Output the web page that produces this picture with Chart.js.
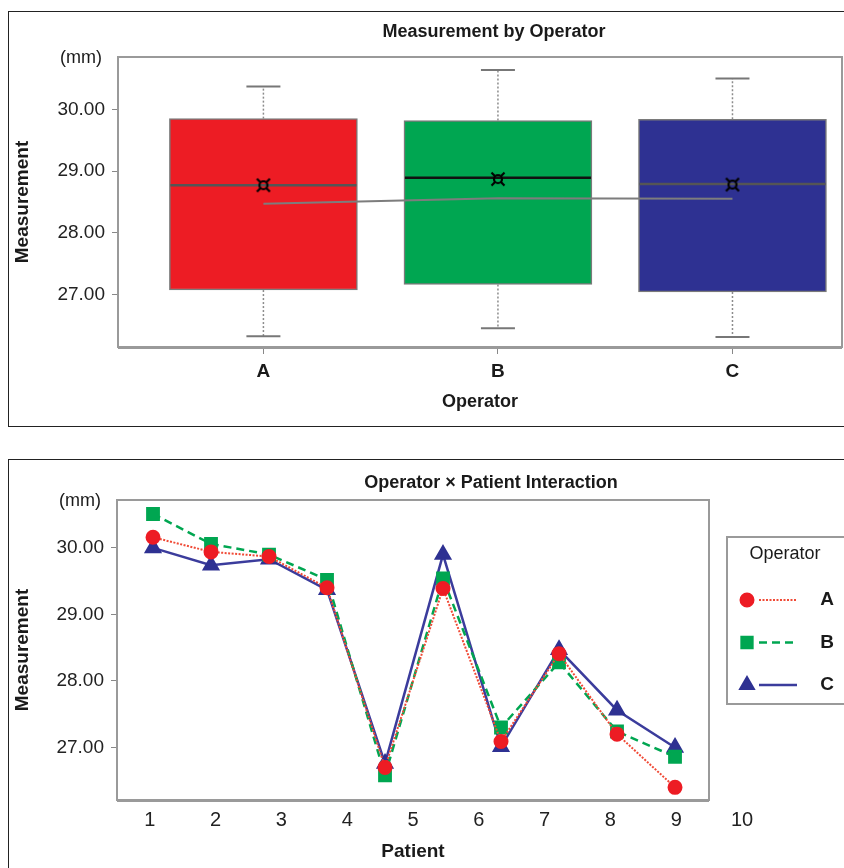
<!DOCTYPE html>
<html>
<head>
<meta charset="utf-8">
<script src="https://cdn.jsdelivr.net/npm/chart.js@4.4.1/dist/chart.umd.min.js"></script>
<style>
  html, body { margin: 0; padding: 0; background: #fff; overflow: hidden; }
  body { width: 844px; height: 868px; position: relative; font-family: "Liberation Sans", Arial, sans-serif; }
  .panel { position: absolute; left: 8px; width: 1000px; border: 1px solid #222; }
  #p1 { top: 11px; height: 414px; }
  #p2 { top: 459px; height: 500px; }
  .wrap { position: absolute; left: 0; }
  #w1 { top: 0; width: 988px; height: 430px; }
  #w2 { top: 430px; width: 982px; height: 438px; }
</style>
</head>
<body>
<div class="panel" id="p1"></div>
<div class="panel" id="p2"></div>
<div class="wrap" id="w1"><canvas id="box"></canvas></div>
<div class="wrap" id="w2"><canvas id="inter"></canvas></div>
<script>
Chart.defaults.font.family = '"Liberation Sans", Arial, sans-serif';

// top chart: measurement by operator
const operators = ['A', 'B', 'C'];
const boxColors = ['#ED1C24', '#00A651', '#2E3192'];
const whiskerLow = [26.32, 26.45, 26.31];
const q1 = [27.07, 27.16, 27.04];
const median = [28.77, 28.89, 28.79];
const q3 = [29.85, 29.82, 29.84];
const whiskerHigh = [30.37, 30.64, 30.50];
const mean = [28.77, 28.87, 28.78];
const trend = [28.47, 28.56, 28.55];
const boxYTicks = [27, 28, 29, 30];

// bottom chart: operator x patient
const patients = [1, 2, 3, 4, 5, 6, 7, 8, 9, 10];
const seriesA = [30.16, 29.94, 29.87, 29.40, 26.70, 29.39, 27.09, 28.41, 27.20, 26.40];
const seriesB = [30.51, 30.06, 29.90, 29.52, 26.58, 29.54, 27.30, 28.28, 27.24, 26.86];
const seriesC = [30.00, 29.74, 29.83, 29.37, 26.76, 29.90, 27.01, 28.47, 27.56, 27.00];
const interYTicks = [27, 28, 29, 30];

const TEXT = '#1a1a1a';

// frame round the plot area + "(mm)" unit text
const framePlugin = {
  id: 'frame',
  beforeDatasetsDraw(chart) {
    const a = chart.chartArea, ctx = chart.ctx;
    ctx.save();
    ctx.strokeStyle = '#9a9a9a';
    ctx.lineWidth = 2;
    ctx.strokeRect(a.left, a.top, a.right - a.left, a.bottom - a.top);
    ctx.lineWidth = 3;
    ctx.beginPath();
    ctx.moveTo(a.left, a.bottom + 0.5);
    ctx.lineTo(a.right, a.bottom + 0.5);
    ctx.stroke();
    ctx.restore();
  },
  afterDraw(chart) {
    const a = chart.chartArea, ctx = chart.ctx;
    ctx.save();
    ctx.fillStyle = TEXT;
    ctx.font = '18px "Liberation Sans", Arial, sans-serif';
    ctx.textAlign = 'center';
    ctx.textBaseline = 'middle';
    ctx.fillText('(mm)', a.left - 37, a.top + 1);
    ctx.restore();
  }
};

// legend to the right, point + line sample for each series
const sideLegend = {
  id: 'sideLegend',
  afterDraw(chart) {
    const a = chart.chartArea, ctx = chart.ctx;
    const x0 = a.right + 18, y0 = a.top + 37;
    ctx.save();
    ctx.strokeStyle = '#9a9a9a';
    ctx.lineWidth = 2;
    ctx.strokeRect(x0, y0, 140, 167);
    ctx.fillStyle = TEXT;
    ctx.textAlign = 'center';
    ctx.textBaseline = 'middle';
    ctx.font = '18px "Liberation Sans", Arial, sans-serif';
    ctx.fillText('Operator', x0 + 58, y0 + 17);
    chart.data.datasets.forEach((ds, i) => {
      const y = y0 + 63 + i * 42.5;
      ctx.save();
      ctx.strokeStyle = ds.borderColor;
      ctx.lineWidth = ds.borderWidth;
      ctx.setLineDash(ds.borderDash || []);
      ctx.beginPath();
      ctx.moveTo(x0 + 32, y);
      ctx.lineTo(x0 + 70, y);
      ctx.stroke();
      ctx.restore();
      ctx.fillStyle = ds.pointBackgroundColor;
      ctx.strokeStyle = ds.pointBorderColor;
      Chart.helpers.drawPoint(ctx, { pointStyle: ds.pointStyle, radius: ds.pointRadius, borderWidth: 1, rotation: 0 }, x0 + 20, y);
      ctx.fillStyle = TEXT;
      ctx.font = 'bold 19px "Liberation Sans", Arial, sans-serif';
      ctx.fillText(ds.label, x0 + 100, y);
    });
    ctx.restore();
  }
};

function meanGlyph() {
  const c = document.createElement('canvas');
  c.width = c.height = 16;
  const g = c.getContext('2d');
  g.strokeStyle = '#000';
  g.lineWidth = 2.2;
  g.beginPath();
  g.arc(8, 8, 4, 0, Math.PI * 2);
  g.stroke();
  g.beginPath();
  [[1, 1], [-1, 1], [1, -1], [-1, -1]].forEach(([dx, dy]) => {
    g.moveTo(8 + dx * 3, 8 + dy * 3);
    g.lineTo(8 + dx * 6.5, 8 + dy * 6.5);
  });
  g.stroke();
  return c;
}

const yAxis = (min, max, tickVals, width) => ({
  type: 'linear',
  min: min, max: max,
  afterBuildTicks: s => { s.ticks = tickVals.map(v => ({ value: v })); },
  afterFit: s => { s.width = width; },
  ticks: { callback: v => v.toFixed(2), font: { size: 19 }, color: '#222', padding: 7 },
  grid: { drawOnChartArea: false, tickLength: 6, color: '#888' },
  border: { display: false },
  title: { display: true, text: 'Measurement', color: TEXT, font: { size: 19, weight: 'bold' }, padding: { top: 11.6, bottom: 0 } }
});

const spacer = width => ({
  type: 'linear', position: 'right',
  ticks: { display: false }, grid: { display: false }, border: { display: false },
  afterFit: s => { s.width = width; }
});

// ---- box plot ----
const boxDatasets = [];
boxDatasets.push({
  type: 'bar',
  data: operators.map((_, i) => ({ x: i + 1, y: [q1[i], q3[i]] })),
  backgroundColor: boxColors,
  borderColor: '#7a7a7a',
  borderWidth: 1.5,
  borderSkipped: false,
  barThickness: 188,
  order: 6
});
operators.forEach((_, i) => {
  [[q3[i], whiskerHigh[i]], [q1[i], whiskerLow[i]]].forEach(pair => {
    boxDatasets.push({
      type: 'line',
      data: pair.map(v => ({ x: i + 1, y: v })),
      borderColor: '#8c8c8c',
      borderWidth: 1.5,
      borderDash: [2, 2],
      pointRadius: 0,
      order: 5
    });
  });
});
boxDatasets.push({
  type: 'scatter',
  data: operators.map((_, i) => ({ x: i + 1, y: whiskerHigh[i] }))
    .concat(operators.map((_, i) => ({ x: i + 1, y: whiskerLow[i] }))),
  pointStyle: 'line',
  pointRadius: 17,
  pointBorderWidth: 2,
  pointBorderColor: '#777',
  order: 4
});
boxDatasets.push({
  type: 'line',
  data: operators.map((_, i) => ({ x: i + 1, y: trend[i] })),
  borderColor: '#7d7d7d',
  borderWidth: 2,
  pointRadius: 0,
  order: 3
});
boxDatasets.push({
  type: 'scatter',
  data: operators.map((_, i) => ({ x: i + 1, y: median[i] })),
  pointStyle: 'line',
  pointRadius: 93,
  pointBorderWidth: 2.5,
  pointBorderColor: ['#555', '#111', '#555'],
  order: 2
});
boxDatasets.push({
  type: 'scatter',
  data: operators.map((_, i) => ({ x: i + 1, y: mean[i] })),
  pointStyle: meanGlyph(),
  pointRadius: 8,
  order: 1
});

new Chart(document.getElementById('box'), {
  type: 'bar',
  data: { datasets: boxDatasets },
  options: {
    responsive: true,
    maintainAspectRatio: false,
    animation: false,
    events: [],
    layout: { autoPadding: false },
    plugins: {
      legend: { display: false },
      tooltip: { enabled: false },
      title: { display: true, text: 'Measurement by Operator', color: TEXT, font: { size: 18, weight: 'bold' }, padding: { top: 21.2, bottom: 14.2 } }
    },
    scales: {
      x: {
        type: 'linear',
        min: 0.38, max: 3.467,
        offset: false,
        afterBuildTicks: s => { s.ticks = operators.map((_, i) => ({ value: i + 1 })); },
        afterFit: s => { s.height = 83; },
        ticks: { callback: (v, i) => operators[i], font: { size: 19, weight: 'bold' }, color: TEXT, padding: 6, autoSkip: false, maxRotation: 0 },
        grid: { drawOnChartArea: false, tickLength: 7, color: '#888', offset: false },
        border: { display: false },
        title: { display: true, text: 'Operator', color: TEXT, font: { size: 18, weight: 'bold' }, padding: { top: 0, bottom: 17 } }
      },
      y: yAxis(26.146, 30.85, boxYTicks, 118),
      ys: spacer(146)
    }
  },
  plugins: [framePlugin]
});

// ---- interaction plot ----
const toPts = arr => arr.map((v, i) => ({ x: patients[i], y: v }));

new Chart(document.getElementById('inter'), {
  type: 'line',
  data: {
    datasets: [
      {
        label: 'A', data: toPts(seriesA),
        borderColor: '#F04A36', borderWidth: 2, borderDash: [2, 1.5],
        pointStyle: 'circle', pointRadius: 6.5,
        pointBackgroundColor: '#ED1C24', pointBorderColor: '#ED1C24'
      },
      {
        label: 'B', data: toPts(seriesB),
        borderColor: '#00A651', borderWidth: 2.5, borderDash: [8, 5],
        pointStyle: 'rect', pointRadius: 8,
        pointBackgroundColor: '#00A651', pointBorderColor: '#00A651'
      },
      {
        label: 'C', data: toPts(seriesC),
        borderColor: '#3B3C9C', borderWidth: 2.5,
        pointStyle: 'triangle', pointRadius: 8,
        pointBackgroundColor: '#2E3192', pointBorderColor: '#2E3192'
      }
    ]
  },
  options: {
    responsive: true,
    maintainAspectRatio: false,
    animation: false,
    events: [],
    layout: { autoPadding: false },
    plugins: {
      legend: { display: false },
      tooltip: { enabled: false },
      title: { display: true, text: 'Operator \u00d7 Patient Interaction', color: TEXT, font: { size: 18, weight: 'bold' }, padding: { top: 42.2, bottom: 6.2 } }
    },
    scales: {
      x: { type: 'linear', display: false, min: 0.379, max: 10.586 },
      xt: {
        type: 'linear', position: 'bottom',
        min: 0.502, max: 9.498,
        afterBuildTicks: s => { s.ticks = patients.map(v => ({ value: v })); },
        afterFit: s => { s.height = 68; },
        ticks: { callback: (v, i) => String(patients[i]), font: { size: 20 }, color: '#222', padding: 0, autoSkip: false, maxRotation: 0 },
        grid: { display: false },
        border: { display: false },
        title: { display: true, text: 'Patient', color: TEXT, font: { size: 19, weight: 'bold' }, padding: { top: 0, bottom: 4.6 } }
      },
      y: yAxis(26.21, 30.72, interYTicks, 117),
      ys: spacer(273)
    }
  },
  plugins: [framePlugin, sideLegend]
});
</script>
</body>
</html>
